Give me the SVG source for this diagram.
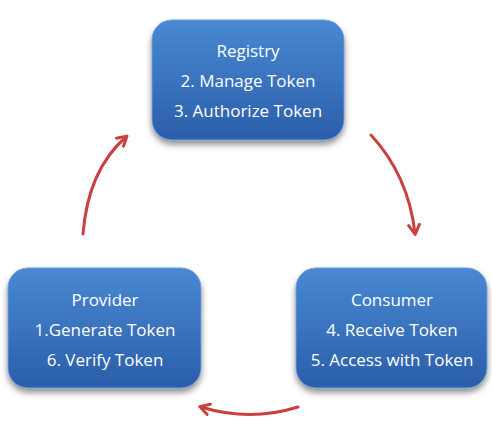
<svg xmlns="http://www.w3.org/2000/svg" width="492" height="421" viewBox="0 0 492 421">
<defs>
<linearGradient id="g" x1="0" y1="0" x2="0" y2="1">
<stop offset="0" stop-color="#4a88d2"/>
<stop offset="1" stop-color="#2a5ea9"/>
</linearGradient>
<filter id="sh" x="-10%" y="-10%" width="120%" height="130%">
<feGaussianBlur in="SourceAlpha" stdDeviation="3"/>
<feOffset dx="0" dy="4" result="b"/>
<feComponentTransfer><feFuncA type="linear" slope="0.45"/></feComponentTransfer>
<feMerge><feMergeNode/><feMergeNode in="SourceGraphic"/></feMerge>
</filter>
<marker id="ah" viewBox="0 0 10 10" refX="7" refY="5" markerWidth="4.5" markerHeight="4.5" orient="auto-start-reverse">
<path d="M1,1 L8,5 L1,9" fill="none" stroke="#c9403f" stroke-width="2.2" stroke-linecap="round" stroke-linejoin="round"/>
</marker>
</defs>
<style>
.box{fill:url(#g);stroke:#6e9fd8;stroke-width:1;filter:url(#sh)}
.t{font-family:"Open Sans","Liberation Sans",sans-serif;font-size:17px;fill:#ffffff;text-anchor:middle}
.c{fill:none;stroke:#c9403f;stroke-width:3;stroke-linecap:round;marker-end:url(#ah)}
</style>
<rect width="492" height="421" fill="#ffffff"/>
<g id="connectors">
<path class="c" d="M83,234 Q88,170 126,137"/>
<path class="c" d="M371,135 Q408,175 415,233"/>
<path class="c" d="M298,407 Q250,422 201,407"/>
</g>
<g id="registry">
<rect class="box" x="152" y="20" width="192" height="120" rx="20"/>
<text class="t" x="248" y="57">Registry</text>
<text class="t" x="248" y="87">2. Manage Token</text>
<text class="t" x="248" y="117">3. Authorize Token</text>
</g>
<g id="provider">
<rect class="box" x="8" y="268" width="193" height="120" rx="20"/>
<text class="t" x="105" y="306">Provider</text>
<text class="t" x="105" y="336">1.Generate Token</text>
<text class="t" x="105" y="366">6. Verify Token</text>
</g>
<g id="consumer">
<rect class="box" x="296" y="268" width="191" height="120" rx="20"/>
<text class="t" x="392" y="306">Consumer</text>
<text class="t" x="392" y="336">4. Receive Token</text>
<text class="t" x="392" y="366">5. Access with Token</text>
</g>
</svg>
